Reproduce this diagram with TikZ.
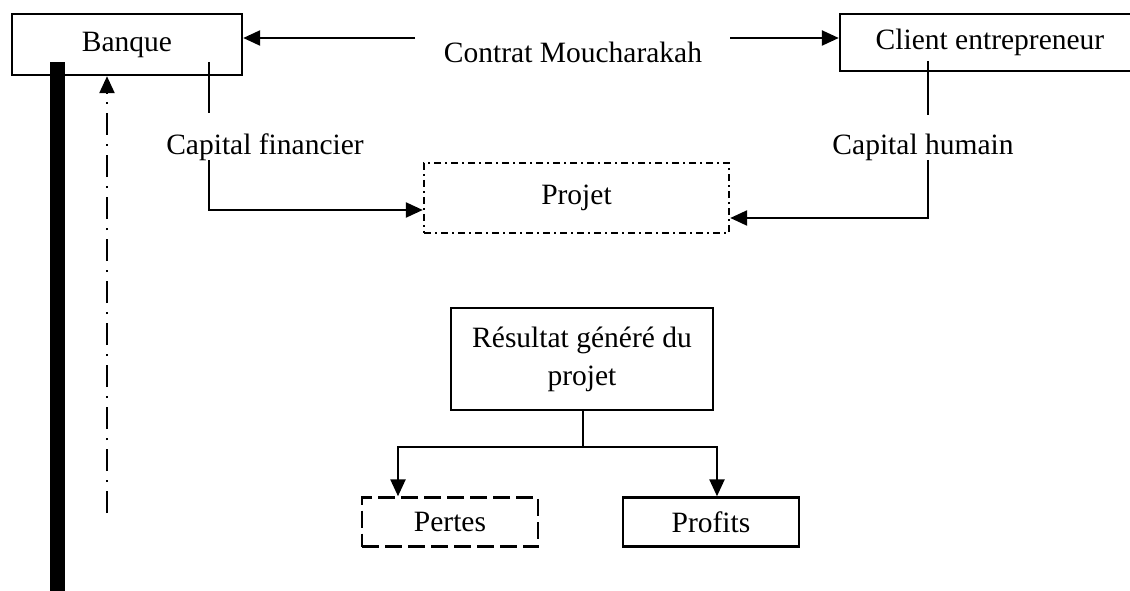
\documentclass[tikz,border=0pt]{standalone}
\usepackage{fontspec}
\setmainfont{Liberation Serif}
\usetikzlibrary{arrows.meta}
\begin{document}
\begin{tikzpicture}[x=1pt,y=-1pt,
  every node/.style={font=\fontsize{29.5}{38}\selectfont, inner sep=0pt},
  box/.style={draw, line width=2.4pt, rectangle, align=center},
  conn/.style={line width=2.4pt},
  arr/.style={conn, -{Triangle[length=17pt,width=15pt]}},
  dashdotbox/.style={dash pattern=on 7pt off 4pt on 2pt off 4pt},
  dashbox/.style={dash pattern=on 17pt off 6pt},
  returnline/.style={dash pattern=on 22pt off 9pt on 2pt off 9pt}]
\useasboundingbox (0,0) rectangle (1130,591);
\clip (0,0) rectangle (1130,591);

% partners
\node[box, minimum width=230pt, minimum height=61pt] (banque) at (127,44.5) {Banque};
\node[box, minimum width=300pt, minimum height=57pt] (client) at (990,42.5) {Client entrepreneur};
\node (contrat) at (573,52) {Contrat Moucharakah};

\coordinate (cL) at (415,38);
\coordinate (cR) at (730,38);
\draw[arr] (cL) -- (banque.east |- cL);
\draw[arr] (cR) -- (client.west |- cR);

% contributions
\node (cf) at (265,147) {Capital financier};
\node (ch) at (923,147) {Capital humain};
\node[box, dashdotbox, minimum width=305pt, minimum height=70pt] (projet) at (576.5,198) {Projet};

\coordinate (cf1) at (209,62);
\coordinate (cf2) at (209,113);
\coordinate (cf3) at (209,160);
\coordinate (cf4) at (209,210);
\draw[conn] (cf1) -- (cf2);
\draw[arr] (cf3) -- (cf4) -- (projet.west |- cf4);

\coordinate (ch1) at (928,61);
\coordinate (ch2) at (928,115);
\coordinate (ch3) at (928,160);
\coordinate (ch4) at (928,218);
\draw[conn] (ch1) -- (ch2);
\draw[arr] (ch3) -- (ch4) -- (projet.east |- ch4);

% outcome
\node[box, minimum width=262pt, minimum height=102pt] (res) at (582,359) {Résultat généré du\\projet};
\node[box, dashbox, minimum width=176pt, minimum height=49pt] (pertes) at (450,522) {Pertes};
\node[box, minimum width=176pt, minimum height=49pt] (profits) at (711,522) {Profits};

\coordinate (j) at (583,447);
\coordinate (pL) at (398,447);
\coordinate (pR) at (717,447);
\draw[conn] (res.south -| j) -- (j);
\draw[arr] (j) -- (pL) -- (pL |- pertes.north);
\draw[arr] (j) -- (pR) -- (pR |- profits.north);

% flows back to the bank
\fill (50,62) rectangle (65,591);
\coordinate (rt) at (107,513);
\draw[arr, returnline] (rt) -- (rt |- banque.south);
\end{tikzpicture}
\end{document}
